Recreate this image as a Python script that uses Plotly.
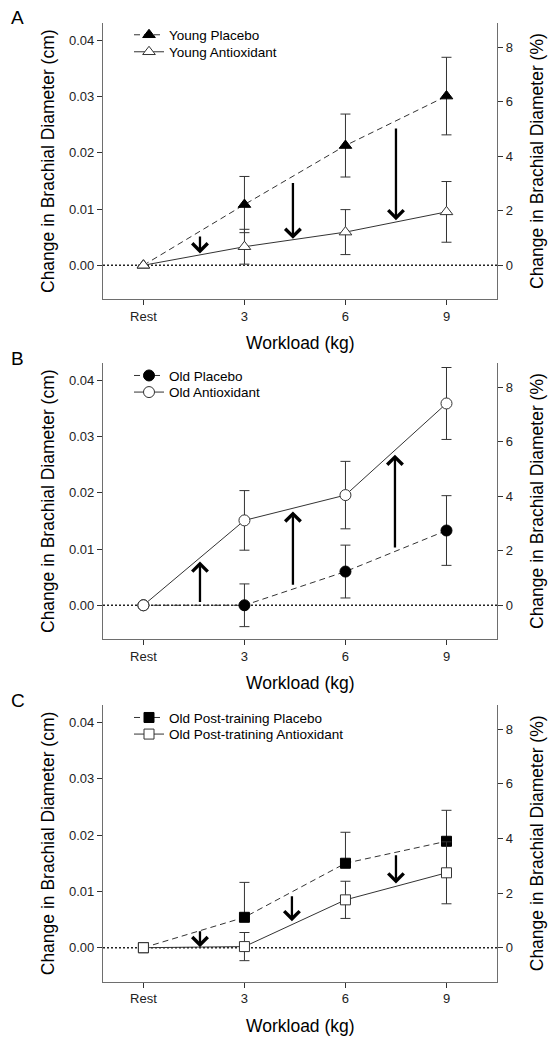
import plotly.graph_objects as go

# ---------------- data ----------------
workload_labels = ["Rest", "3", "6", "9"]
x_pos = [0, 1, 2, 3]

# Panel A
young_placebo = [0.0, 0.0108, 0.0213, 0.0301]
young_placebo_err = [0.0, 0.0050, 0.0056, 0.0069]
young_antiox = [0.0, 0.0033, 0.0059, 0.0095]
young_antiox_err = [0.0, 0.0031, 0.0040, 0.0054]
arrowsA_x = [0.56, 1.48, 2.5]
arrowsA_from = [0.0054, 0.0149, 0.0246]
arrowsA_to = [0.0021, 0.0047, 0.0080]

# Panel B
old_placebo = [0.0, 0.0, 0.0060, 0.0133]
old_placebo_err = [0.0, 0.0038, 0.0047, 0.0062]
old_antiox = [0.0, 0.0151, 0.0196, 0.0359]
old_antiox_err = [0.0, 0.0053, 0.0060, 0.0064]
arrowsB_x = [0.56, 1.48, 2.49]
arrowsB_from = [0.0003, 0.0034, 0.0100]
arrowsB_to = [0.0078, 0.0167, 0.0268]

# Panel C
post_placebo = [0.0, 0.0054, 0.0150, 0.0189]
post_placebo_err_up = [0.0, 0.0062, 0.0055, 0.0055]
post_placebo_err_down = [0.0, 0.0, 0.0, 0.0]
post_antiox = [0.0, 0.0002, 0.0085, 0.0133]
post_antiox_err = [0.0, 0.0025, 0.0033, 0.0055]
arrowsC_x = [0.56, 1.47, 2.5]
arrowsC_from = [0.0032, 0.0094, 0.0167]
arrowsC_to = [0.0001, 0.0047, 0.0114]

left_ticks = [0.0, 0.01, 0.02, 0.03, 0.04]
right_ticks = [0, 2, 4, 6, 8]

# ---------------- layout constants ----------------
W, H = 555, 1046
FONT = "Arial, 'Liberation Sans', sans-serif"
AXIS_GRAY = "#6e6e6e"
x_dom = [103 / W, 497 / W]
panels_px = [(23, 299), (363, 639), (705, 981.5)]
legend_off_px = [(12, 29), (12.7, 29.3), (12.7, 29.3)]
y_doms = [[1 - b / H, 1 - t / H] for (t, b) in panels_px]
LEFT_RANGE = [-0.006, 0.0431]
RIGHT_RANGE = [-1.236, 8.89]
X_RANGE = [-0.4, 3.5]
TICKFONT = dict(family=FONT, size=13, color="#222222")

fig = go.Figure()

panels = [
    dict(label="A", placebo=young_placebo, p_up=young_placebo_err, p_dn=young_placebo_err,
         antiox=young_antiox, a_err=young_antiox_err,
         pname="Young Placebo", aname="Young Antioxidant", symbol="triangle-up", msize=11,
         ax_=arrowsA_x, afrom=arrowsA_from, ato=arrowsA_to),
    dict(label="B", placebo=old_placebo, p_up=old_placebo_err, p_dn=old_placebo_err,
         antiox=old_antiox, a_err=old_antiox_err,
         pname="Old Placebo", aname="Old Antioxidant", symbol="circle", msize=11,
         ax_=arrowsB_x, afrom=arrowsB_from, ato=arrowsB_to),
    dict(label="C", placebo=post_placebo, p_up=post_placebo_err_up, p_dn=post_placebo_err_down,
         antiox=post_antiox, a_err=post_antiox_err,
         pname="Old Post-training Placebo", aname="Old Post-tratining Antioxidant",
         symbol="square", msize=10,
         ax_=arrowsC_x, afrom=arrowsC_from, ato=arrowsC_to),
]

annotations = []
shapes = []
layout_axes = {}

for i, p in enumerate(panels):
    n = i + 1
    xa = "x" if n == 1 else f"x{n}"
    ya = "y" if n == 1 else f"y{2 * n - 1}"
    yr = f"y{2 * n}"
    leg_p = "legend" if n == 1 else f"legend{2 * n - 1}"
    leg_a = f"legend{2 * n}"

    # placebo (dashed, filled marker)
    fig.add_trace(go.Scatter(
        x=x_pos, y=p["placebo"], mode="lines+markers", name=p["pname"],
        xaxis=xa, yaxis=ya, legend=leg_p,
        line=dict(color="#333333", width=1, dash="6px,4px"),
        marker=dict(symbol=p["symbol"], size=p["msize"], color="black",
                    line=dict(color="black", width=1)),
        error_y=dict(type="data", array=p["p_up"], arrayminus=p["p_dn"], symmetric=False,
                     color="#333333", thickness=1, width=5),
    ))
    # antioxidant (solid, open marker)
    fig.add_trace(go.Scatter(
        x=x_pos, y=p["antiox"], mode="lines+markers", name=p["aname"],
        xaxis=xa, yaxis=ya, legend=leg_a,
        line=dict(color="#333333", width=1),
        marker=dict(symbol=p["symbol"], size=p["msize"], color="white",
                    line=dict(color="#333333", width=1)),
        error_y=dict(type="data", array=p["a_err"], color="#333333", thickness=1, width=5),
    ))
    # invisible trace so that the right-hand (%) axis is drawn
    fig.add_trace(go.Scatter(
        x=[x_pos[0]], y=[0], mode="markers", xaxis=xa, yaxis=yr, showlegend=False,
        hoverinfo="skip", marker=dict(opacity=0, size=1),
    ))

    dom_y = y_doms[i]
    xkey = "xaxis" if n == 1 else f"xaxis{n}"
    ykey = "yaxis" if n == 1 else f"yaxis{2 * n - 1}"
    yrkey = f"yaxis{2 * n}"

    layout_axes[xkey] = dict(
        domain=x_dom, anchor=ya, range=X_RANGE, tickvals=x_pos, ticktext=workload_labels,
        showline=True, linecolor=AXIS_GRAY, linewidth=1.3, ticks="outside", ticklen=5,
        tickcolor="#333333", showgrid=False, zeroline=False,
        tickfont=TICKFONT, automargin=False,
    )
    layout_axes[ykey] = dict(
        domain=dom_y, anchor=xa, range=LEFT_RANGE, tickvals=left_ticks, tickformat=".2f",
        showline=True, linecolor=AXIS_GRAY, linewidth=1.3, ticks="outside", ticklen=5,
        tickcolor="#333333", showgrid=False, zeroline=False,
        tickfont=TICKFONT, automargin=False,
    )
    layout_axes[yrkey] = dict(
        domain=dom_y, anchor=xa, overlaying=ya, side="right", range=RIGHT_RANGE,
        tickvals=right_ticks, showline=True, linecolor=AXIS_GRAY, linewidth=1.3,
        ticks="outside", ticklen=5, tickcolor="#333333", showgrid=False, zeroline=False,
        tickfont=TICKFONT, automargin=False,
    )

    # dotted zero line
    shapes.append(dict(type="line", xref=f"{xa} domain", yref=ya, x0=0, x1=1, y0=0, y1=0,
                       line=dict(color="#222222", width=1.5, dash="2px,2px"), layer="below"))

    # arrows
    for axv, yf, yt in zip(p["ax_"], p["afrom"], p["ato"]):
        annotations.append(dict(
            x=axv, y=yt, ax=axv, ay=yf, xref=xa, yref=ya, axref=xa, ayref=ya,
            text="", showarrow=True, arrowhead=4, arrowsize=1.3, arrowwidth=2.3,
            arrowcolor="black",
        ))

    top_px, bot_px = panels_px[i]
    mid_y = 1 - (top_px + bot_px) / 2 / H
    # panel label
    annotations.append(dict(text=p["label"], x=9 / W, y=1 - (top_px - 5) / H,
                            xref="paper", yref="paper", xanchor="left", yanchor="middle",
                            showarrow=False, font=dict(family=FONT, size=19, color="black")))
    # y titles
    annotations.append(dict(text="Change in Brachial Diameter (cm)", x=48 / W, y=mid_y,
                            xref="paper", yref="paper", xanchor="center", yanchor="middle",
                            textangle=-90, showarrow=False,
                            font=dict(family=FONT, size=17.5, color="black")))
    annotations.append(dict(text="Change in Brachial Diameter (%)", x=537 / W, y=mid_y,
                            xref="paper", yref="paper", xanchor="center", yanchor="middle",
                            textangle=-90, showarrow=False,
                            font=dict(family=FONT, size=17.5, color="black")))
    # x title
    annotations.append(dict(text="Workload (kg)", x=300 / W, y=1 - (bot_px + 44) / H,
                            xref="paper", yref="paper", xanchor="center", yanchor="middle",
                            showarrow=False, font=dict(family=FONT, size=17.5, color="black")))

    o1, o2 = legend_off_px[i]
    for lg, off in ((leg_p, o1), (leg_a, o2)):
        layout_axes[lg] = dict(
            x=129 / W, y=1 - (top_px + off) / H, xanchor="left", yanchor="middle",
            bgcolor="rgba(0,0,0,0)", borderwidth=0,
            font=dict(family=FONT, size=13.5, color="black"), itemwidth=30,
        )

fig.update_layout(
    width=W, height=H, margin=dict(l=0, r=0, t=0, b=0),
    paper_bgcolor="white", plot_bgcolor="white", template="none",
    showlegend=True, annotations=annotations, shapes=shapes,
    **layout_axes,
)

fig.write_html(
    "out.html",
    config={"displayModeBar": False},
    post_script="document.body.style.margin='0px';document.body.style.overflow='hidden';",
)
